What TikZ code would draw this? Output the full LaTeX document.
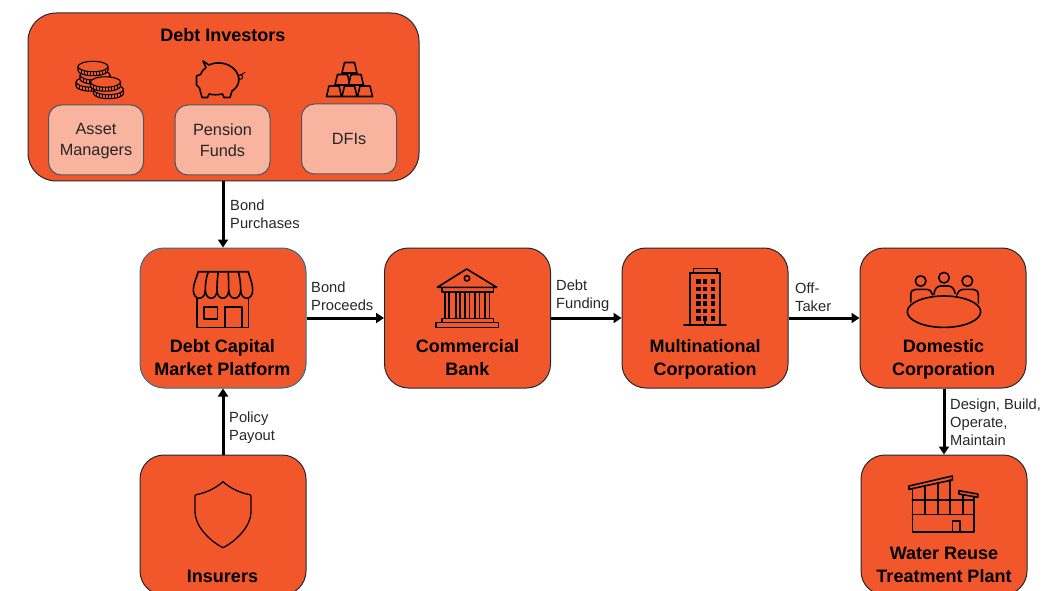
\documentclass[tikz,border=0pt]{standalone}
\usepackage{fontspec}
\setmainfont{Liberation Sans}
\usetikzlibrary{arrows.meta}
\definecolor{boxorange}{HTML}{F2572B}
\definecolor{boxpale}{HTML}{F9B4A0}
\definecolor{edgedark}{HTML}{1F2A33}
\definecolor{edgeblue}{HTML}{2F6F93}
\definecolor{labelgrey}{HTML}{262626}
\tikzset{
  bigbox/.style={draw=edgedark,line width=1pt,fill=boxorange,rounded corners=24pt,inner sep=0pt,minimum width=166pt,minimum height=140pt},
  palebox/.style={draw=edgedark!80,line width=1pt,fill=boxpale,rounded corners=13pt,inner sep=0pt,minimum width=95pt,minimum height=70pt},
  paletext/.style={align=center,inner sep=0pt,text=labelgrey,font=\fontsize{16.3}{21}\selectfont},
  titletext/.style={align=center,font=\fontsize{18}{23}\selectfont\bfseries,text=black,inner sep=0pt},
  edgetext/.style={align=left,anchor=west,font=\fontsize{14.7}{18}\selectfont,text=labelgrey,inner sep=0pt},
  flow/.style={line width=3pt,black,-{Triangle[length=8pt,width=10pt]}},
  icon/.style={line width=1.6pt,black,line join=round,line cap=round},
  iconfilled/.style={icon,fill=boxorange}
}
\newcommand{\coinpile}[2]{%
  \begin{scope}[shift={(#1,#2)}]
    \draw[iconfilled,line width=1.1pt] (-15,0) -- (-15,4) .. controls (-15,7) and (-8,9.2) .. (0,9.2) .. controls (8,9.2) and (15,7) .. (15,4) -- (15,0) -- cycle;
    \draw[iconfilled,line width=1.1pt] (0,0) ellipse[x radius=15,y radius=5.2];
    \foreach \a in {-12,-9,-6,-3,0,3,6,9,12}
      \draw[black,line width=.8pt] (\a,{5.2*sqrt(1-(\a/15)^2)}) -- (\a,{4+5.2*sqrt(1-(\a/15)^2)});
  \end{scope}}
\newcommand{\goldbar}[2]{\draw[iconfilled] (#1-7.5,#2) -- (#1-5,#2-10.5) -- (#1+5,#2-10.5) -- (#1+7.5,#2) -- cycle;}
\begin{document}
\begin{tikzpicture}[x=1pt,y=-1pt]
\useasboundingbox (0,0) rectangle (1045,591);
\clip (0,0) rectangle (1045,591);

% boxes
\node[bigbox,rounded corners=28pt,minimum width=391pt,minimum height=168pt] (investors) at (223.5,97) {};
\node[palebox] (asset) at (96,140) {};
\node[palebox] (pension) at (222.5,140) {};
\node[palebox] (dfi) at (349,139) {};
\node[paletext] (assettext) at (96,141.5) {Asset\\Managers};
\node[paletext] (pensiontext) at (222.5,140.5) {Pension\\Funds};
\node[paletext] (dfitext) at (349,139) {DFIs};
\node[bigbox,draw=edgeblue] (platform) at (223,318) {};
\node[bigbox] (bank) at (467.5,318) {};
\node[bigbox] (multi) at (705,318) {};
\node[bigbox] (domestic) at (943,318) {};
\node[bigbox] (insurers) at (223,525) {};
\node[bigbox] (plant) at (944,525) {};

% titles
\node[titletext] (t0) at (223,35) {Debt Investors};
\node[titletext] (t1) at (222.5,357.5) {Debt Capital\\Market Platform};
\node[titletext] (t2) at (467.5,357.5) {Commercial\\Bank};
\node[titletext] (t3) at (705,359) {Multinational\\Corporation};
\node[titletext] (t4) at (943.5,359) {Domestic\\Corporation};
\node[titletext] (t5) at (222.5,576.5) {Insurers};
\node[titletext] (t6) at (944,565) {Water Reuse\\Treatment Plant};

% connectors
\draw[flow] (investors.south -| platform.north) -- (platform.north);
\draw[flow] (insurers.north) -- (platform.south);
\draw[flow] (platform.east) -- (bank.west);
\draw[flow] (bank.east) -- (multi.west);
\draw[flow] (multi.east) -- (domestic.west);
\draw[flow] (plant.north |- domestic.south) -- (plant.north);

% connector labels
\node[edgetext] (l0) at (230,214) {Bond\\Purchases};
\node[edgetext] (l1) at (311,296) {Bond\\Proceeds};
\node[edgetext] (l2) at (556,296) {Debt\\Funding};
\node[edgetext] (l3) at (795,297.5) {Off-\\Taker};
\node[edgetext] (l4) at (229,428) {Policy\\Payout};
\node[edgetext] (l5) at (950,422.5) {Design, Build,\\Operate,\\Maintain};

% coins
\coinpile{91}{82}
\coinpile{95}{75}
\coinpile{93}{66.5}
\coinpile{108.5}{89.5}
\coinpile{105.5}{82}

% piggy bank
\draw[icon] (203,61) -- (209,65) .. controls (216,61.5) and (228,62) .. (235,70)
  .. controls (241,77) and (240,86) .. (232,91) -- (230,97.5) -- (224,97.5) -- (222.5,94)
  .. controls (218,95) and (213,95) .. (209,94) -- (207.5,97.5) -- (202,97.5) -- (199.5,88)
  -- (196.5,85) -- (196.5,76) -- (200.5,74.5) .. controls (202,71) and (204,69) .. (206,67.5) -- cycle;
\draw[icon,line width=1pt] (240.5,77) circle[radius=2.2];
\draw[icon,line width=1pt] (240.5,75) -- (245,72.5);

% gold bars
\goldbar{349.5}{73}
\goldbar{342.5}{85}
\goldbar{356}{85}
\goldbar{334}{96.5}
\goldbar{349.5}{96.5}
\goldbar{365}{96.5}

% storefront
\draw[icon] (196.7,296) -- (196.7,327.3) -- (248.3,327.3) -- (248.3,296);
\draw[icon] (204,306.7) rectangle (217.3,319);
\draw[icon] (225,327.3) -- (225,306.7) -- (241.7,306.7) -- (241.7,327.3);
\draw[iconfilled] (198.3,271.7) -- (248.3,271.7) .. controls (250,278) and (252.7,284) .. (252.7,290)
  .. controls (252.7,301) and (240.7,301) .. (240.7,290)
  .. controls (240.7,301) and (228.7,301) .. (228.7,290)
  .. controls (228.7,301) and (217,301) .. (217,290)
  .. controls (217,301) and (205.3,301) .. (205.3,290)
  .. controls (205.3,301) and (193.3,301) .. (193.3,290)
  .. controls (193.3,284) and (196.5,278) .. cycle;
\draw[icon] (208.3,271.7) .. controls (206,278) and (205.3,284) .. (205.3,290);
\draw[icon] (218.3,271.7) .. controls (217.3,278) and (217,284) .. (217,290);
\draw[icon] (228.3,271.7) .. controls (228.5,278) and (228.7,284) .. (228.7,290);
\draw[icon] (238.3,271.7) .. controls (240,278) and (240.7,284) .. (240.7,290);

% bank
\draw[icon] (466.7,269) -- (496.7,287.3) -- (437.3,287.3) -- cycle;
\draw[icon] (467,278.3) circle[radius=2.7];
\draw[icon] (441.7,287.3) rectangle (493.3,291.7);
\foreach \c in {447,458,467.2,477.2,487.2}
  \draw[icon] (\c-2.2,291.7) rectangle (\c+2.2,318.3);
\draw[icon] (441.7,318.3) rectangle (493.3,322.3);
\draw[icon] (436,322.3) rectangle (498.3,327.3);

% office tower
\draw[icon] (690,325) rectangle (720,272.7);
\draw[icon] (693.3,272.7) rectangle (716.7,268.3);
\draw[icon] (684,325) -- (726,325);
\foreach \r in {0,...,5}
  \foreach \c in {696,702.7,710.7}
    \fill[black] (\c,279.3+7.33*\r) rectangle (\c+4.7,284+7.33*\r);
\draw[icon,boxorange,line width=2pt] (705,318) -- (705,325);
\draw[icon,line width=1.3pt] (705,317) -- (705,325);

% meeting table
\draw[icon] (920.7,281) circle[radius=5.3];
\draw[icon] (944,277.7) circle[radius=5.3];
\draw[icon] (967.3,281) circle[radius=5.3];
\draw[icon] (910.7,302) -- (910.7,295) .. controls (910.7,291) and (913,289.3) .. (916,289.3) -- (926,289.3) .. controls (930,289.3) and (932,292) .. (932.7,295);
\draw[icon] (934,294.3) .. controls (934.5,289) and (937,286) .. (941,286) -- (948,286) .. controls (952,286) and (954.5,289) .. (955,293.3);
\draw[icon] (956.7,295) .. controls (957.5,292) and (960,289.3) .. (964,289.3) -- (973,289.3) .. controls (976,289.3) and (978.3,291) .. (978.3,295) -- (978.3,303);
\draw[icon] (944,311.7) ellipse[x radius=36.7,y radius=15.7];

% factory
\draw[icon] (909,486) -- (952.3,476) -- (952.3,480) -- (909,489.3) -- cycle;
\draw[icon] (959,490.7) -- (977.7,494) -- (977.7,497.3) -- (959,494) -- cycle;
\draw[icon] (912.3,488.5) -- (912.3,531.7) -- (974,531.7) -- (974,496.5);
\draw[icon] (912.3,500) -- (974,500);
\draw[icon] (912.3,514.3) -- (974,514.3);
\draw[icon] (925,485.5) -- (925,514.3);
\draw[icon] (937.7,482.5) -- (937.7,514.3);
\draw[icon] (950,480) -- (950,514.3);
\draw[icon] (962.7,494.5) -- (962.7,514.3);
\draw[icon] (952.3,531.7) -- (952.3,520.7) -- (960,520.7) -- (960,531.7);

% shield
\draw[icon,line width=1.3pt] (223,481.7) .. controls (215,489) and (205,493) .. (196,494.7)
  .. controls (195,495) and (195,495.5) .. (195,496) -- (195,512)
  .. controls (195,525) and (208,540) .. (223,547.7)
  .. controls (238,540) and (251,525) .. (251,512) -- (251,496)
  .. controls (251,495.5) and (251,495) .. (250,494.7)
  .. controls (241,493) and (231,489) .. cycle;
\end{tikzpicture}
\end{document}
